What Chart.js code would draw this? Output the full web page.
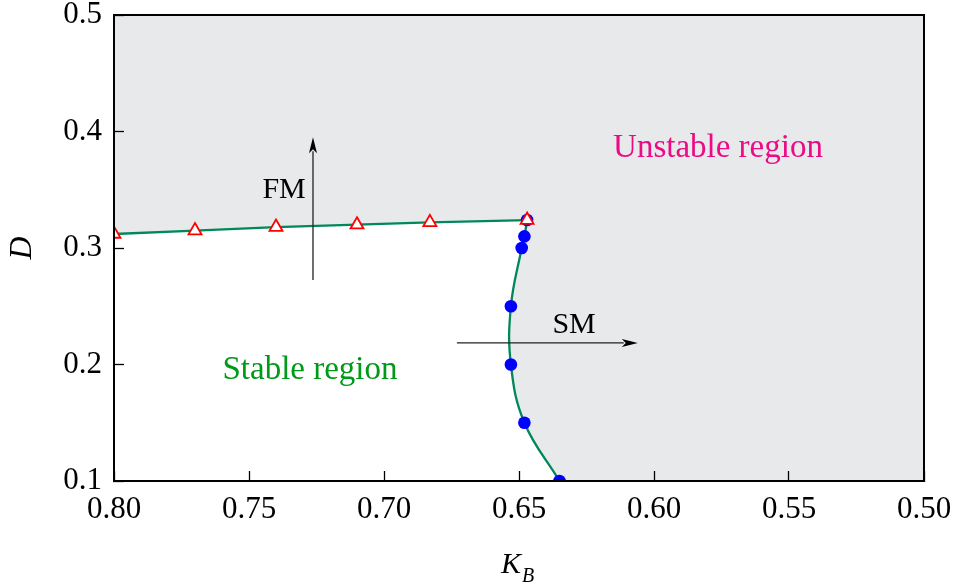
<!DOCTYPE html>
<html>
<head>
<meta charset="utf-8">
<title>Stability boundary</title>
<script src="https://cdn.jsdelivr.net/npm/chart.js@4.4.1/dist/chart.umd.min.js"></script>
<style>
    html, body { margin: 0; padding: 0; background: #ffffff; }
    #wrap { position: relative; width: 957px; height: 587px; }
</style>
</head>
<body>
<div id="wrap"><canvas id="stabilityChart"></canvas></div>
<script>
// ============================================
// DATA
// ============================================

// axis ticks
const kTicks = [0.80, 0.75, 0.70, 0.65, 0.60, 0.55, 0.50];
const dTicks = [0.1, 0.2, 0.3, 0.4, 0.5];

// flutter mode (FM) boundary - triangles
const fmK = [0.800, 0.770, 0.740, 0.710, 0.683, 0.647];
const fmD = [0.312, 0.315, 0.318, 0.320, 0.322, 0.324];

// static mode (SM) boundary - circles, top to bottom
const smK = [0.647, 0.648, 0.649, 0.653, 0.653, 0.648, 0.635];
const smD = [0.324, 0.310, 0.300, 0.250, 0.200, 0.150, 0.100];

const toPoints = (xs, ys) => xs.map((v, i) => ({ x: v, y: ys[i] }));

// ============================================
// STYLE
// ============================================

const SERIF = "'Liberation Serif', 'Times New Roman', serif";
const CURVE_GREEN = '#00875a';
const SHADE = '#e8e9eb';

// dataset order: markers first so they are painted on top
const TRI = 0, DOT = 1, FM_LINE = 2, SM_LINE = 3;

// text and arrows, placed in data units
const notes = [
    { text: 'FM', k: 0.737, d: 0.3429, size: 30, color: '#000000' },
    { text: 'SM', k: 0.6296, d: 0.2270, size: 30, color: '#000000' },
    { text: 'Stable region', k: 0.7274, d: 0.1876, size: 33, color: '#009a19' },
    { text: 'Unstable region', k: 0.5763, d: 0.3781, size: 33, color: '#ec0b86' }
];
const arrows = [
    { k0: 0.7263, d0: 0.2725, k1: 0.7263, d1: 0.395 },
    { k0: 0.673, d0: 0.2185, k1: 0.606, d1: 0.2185 }
];

// grey unstable area with the stable part cut out in white
const regionShading = {
    id: 'regionShading',
    beforeDraw(chart) {
        const { ctx, chartArea: a, scales: { x, y } } = chart;
        const smLine = chart.getDatasetMeta(SM_LINE).dataset;
        const fmPts = chart.getDatasetMeta(FM_LINE).data;

        ctx.save();
        ctx.fillStyle = SHADE;
        ctx.fillRect(a.left, a.top, a.width, a.height);
        ctx.beginPath();
        ctx.rect(a.left, a.top, a.width, a.height);
        ctx.clip();

        ctx.beginPath();
        if (smLine && typeof smLine.path === 'function') {
            smLine.updateControlPoints(a, 'x');
            smLine.path(ctx);
        } else {
            chart.getDatasetMeta(SM_LINE).data.forEach((p, i) => i ? ctx.lineTo(p.x, p.y) : ctx.moveTo(p.x, p.y));
        }
        ctx.lineTo(x.getPixelForValue(fmK[0]), y.getPixelForValue(smD[smD.length - 1]));
        fmPts.forEach(p => ctx.lineTo(p.x, p.y));
        ctx.closePath();
        ctx.fillStyle = '#ffffff';
        ctx.fill();
        ctx.restore();
    }
};

function drawArrow(ctx, x0, y0, x1, y1) {
    const ang = Math.atan2(y1 - y0, x1 - x0);
    const len = 16, half = 4;
    ctx.beginPath();
    ctx.moveTo(x0, y0);
    ctx.lineTo(x1 - Math.cos(ang) * (len - 2), y1 - Math.sin(ang) * (len - 2));
    ctx.stroke();
    ctx.beginPath();
    ctx.moveTo(x1, y1);
    ctx.lineTo(x1 - Math.cos(ang) * len - Math.sin(ang) * half, y1 - Math.sin(ang) * len + Math.cos(ang) * half);
    ctx.lineTo(x1 - Math.cos(ang) * (len - 4), y1 - Math.sin(ang) * (len - 4));
    ctx.lineTo(x1 - Math.cos(ang) * len + Math.sin(ang) * half, y1 - Math.sin(ang) * len - Math.cos(ang) * half);
    ctx.closePath();
    ctx.fill();
}

// arrows, region labels, frame and the subscripted x title
const annotations = {
    id: 'annotations',
    afterDatasetsDraw(chart) {
        const { ctx, chartArea: a, scales: { x, y } } = chart;
        ctx.save();

        ctx.strokeStyle = '#222222';
        ctx.fillStyle = '#000000';
        ctx.lineWidth = 1.3;
        arrows.forEach(ar => drawArrow(ctx,
            x.getPixelForValue(ar.k0), y.getPixelForValue(ar.d0),
            x.getPixelForValue(ar.k1), y.getPixelForValue(ar.d1)));

        ctx.textAlign = 'center';
        ctx.textBaseline = 'alphabetic';
        notes.forEach(n => {
            ctx.font = n.size + 'px ' + SERIF;
            ctx.fillStyle = n.color;
            ctx.fillText(n.text, x.getPixelForValue(n.k), y.getPixelForValue(n.d));
        });

        ctx.strokeStyle = '#000000';
        ctx.lineWidth = 2;
        ctx.strokeRect(a.left, a.top, a.width, a.height);

        // K_B
        ctx.fillStyle = '#000000';
        ctx.textAlign = 'left';
        ctx.font = 'italic 30px ' + SERIF;
        const cx = (a.left + a.right) / 2;
        ctx.fillText('K', cx - 18, 573);
        ctx.font = 'italic 20px ' + SERIF;
        ctx.fillText('B', cx + 3, 582);

        ctx.restore();
    }
};

// ============================================
// CHART
// ============================================

document.addEventListener('DOMContentLoaded', () => {
    if (typeof Chart === 'undefined') {
        console.error('Chart.js not loaded');
        return;
    }

    Chart.defaults.font.family = SERIF;
    Chart.defaults.color = '#000000';

    new Chart(document.getElementById('stabilityChart'), {
        type: 'scatter',
        data: {
            datasets: [
                {
                    label: 'FM',
                    data: toPoints(fmK, fmD),
                    pointStyle: 'triangle',
                    pointRadius: 7.5,
                    pointBorderWidth: 1.8,
                    pointBorderColor: '#ff0000',
                    pointBackgroundColor: '#ffffff',
                    clip: 0
                },
                {
                    label: 'SM',
                    data: toPoints(smK, smD),
                    pointStyle: 'circle',
                    pointRadius: 6.3,
                    pointBorderWidth: 0,
                    pointBackgroundColor: '#0000ff',
                    clip: 0
                },
                {
                    label: 'FM boundary',
                    data: toPoints(fmK, fmD),
                    showLine: true,
                    tension: 0,
                    borderColor: CURVE_GREEN,
                    borderWidth: 2.3,
                    pointRadius: 0,
                    clip: 0
                },
                {
                    label: 'SM boundary',
                    data: toPoints(smK, smD),
                    showLine: true,
                    tension: 0.4,
                    borderColor: CURVE_GREEN,
                    borderWidth: 2.3,
                    pointRadius: 0,
                    clip: 0
                }
            ]
        },
        options: {
            responsive: true,
            maintainAspectRatio: false,
            devicePixelRatio: 1,
            animation: false,
            events: [],
            layout: {
                padding: { top: 15, right: 33, left: 0, bottom: 0 }
            },
            plugins: {
                legend: { display: false },
                tooltip: { enabled: false }
            },
            scales: {
                x: {
                    type: 'linear',
                    min: 0.50,
                    max: 0.80,
                    reverse: true,
                    afterFit(scale) {
                        scale.height = 106;
                        scale.paddingLeft = 0;
                        scale.paddingRight = 0;
                    },
                    afterBuildTicks(scale) { scale.ticks = kTicks.map(v => ({ value: v })); },
                    grid: {
                        drawOnChartArea: false,
                        drawTicks: true,
                        tickLength: -10,
                        tickWidth: 1.3,
                        tickColor: '#000000'
                    },
                    border: { display: true, color: '#000000', width: 2 },
                    ticks: {
                        autoSkip: false,
                        maxRotation: 0,
                        padding: 20,
                        font: { size: 31 },
                        callback: v => Number(v).toFixed(2)
                    }
                },
                y: {
                    type: 'linear',
                    min: 0.1,
                    max: 0.5,
                    afterFit(scale) {
                        scale.width = 114;
                        scale.paddingTop = 0;
                        scale.paddingBottom = 0;
                    },
                    afterBuildTicks(scale) { scale.ticks = dTicks.map(v => ({ value: v })); },
                    grid: {
                        drawOnChartArea: false,
                        drawTicks: true,
                        tickLength: -10,
                        tickWidth: 1.3,
                        tickColor: '#000000'
                    },
                    border: { display: true, color: '#000000', width: 2 },
                    title: {
                        display: true,
                        text: 'D',
                        padding: { top: 3, bottom: 0 },
                        font: { size: 32, style: 'italic' }
                    },
                    ticks: {
                        padding: 22,
                        font: { size: 31 },
                        callback: v => Number(v).toFixed(1)
                    }
                }
            }
        },
        plugins: [regionShading, annotations]
    });
});
</script>
</body>
</html>
